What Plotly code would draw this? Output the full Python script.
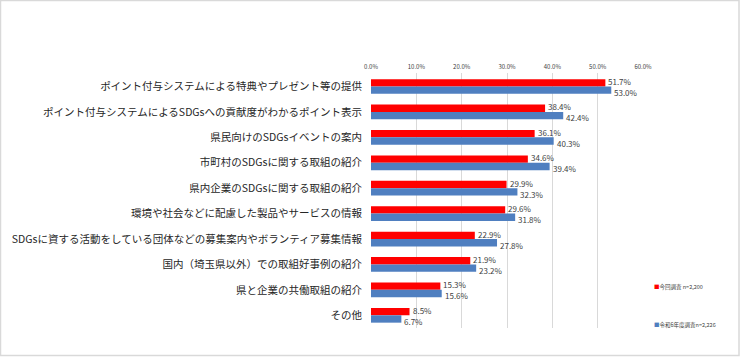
import plotly.graph_objects as go

categories = [
    "ポイント付与システムによる特典やプレゼント等の提供",
    "ポイント付与システムによるSDGsへの貢献度がわかるポイント表示",
    "県民向けのSDGsイベントの案内",
    "市町村のSDGsに関する取組の紹介",
    "県内企業のSDGsに関する取組の紹介",
    "環境や社会などに配慮した製品やサービスの情報",
    "SDGsに資する活動をしている団体などの募集案内やボランティア募集情報",
    "国内（埼玉県以外）での取組好事例の紹介",
    "県と企業の共働取組の紹介",
    "その他",
]
current_values = [51.7, 38.4, 36.1, 34.6, 29.9, 29.6, 22.9, 21.9, 15.3, 8.5]
previous_values = [53.0, 42.4, 40.3, 39.4, 32.3, 31.8, 27.8, 23.2, 15.6, 6.7]
series_names = ["今回調査 n=2,200", "令和6年度調査n=2,226"]
tick_values = [0, 10, 20, 30, 40, 50, 60]
tick_labels = ["0.0%", "10.0%", "20.0%", "30.0%", "40.0%", "50.0%", "60.0%"]

RED = "#FF0000"
BLUE = "#4F7FC0"
FONT = "Noto Sans CJK JP"

fig = go.Figure()
for name, vals, col in [(series_names[0], current_values, RED),
                        (series_names[1], previous_values, BLUE)]:
    fig.add_trace(go.Bar(
        y=categories, x=vals, name=name, orientation="h",
        marker=dict(color=col, line=dict(width=0)),
        showlegend=False, hoverinfo="skip",
    ))

# value labels (placed next to bar ends, red slightly above, blue below)
for vals, shift in [(current_values, 5), (previous_values, -6)]:
    for cat, v in zip(categories, vals):
        fig.add_annotation(
            x=v, y=cat, xref="x", yref="y", text=f"{v:.1f}%",
            showarrow=False, xanchor="left", yanchor="middle",
            xshift=1, yshift=shift,
            font=dict(size=8, color="#404040", family=FONT),
        )

W, H = 740, 357
L, R, T, B = 371, 97, 73, 29
pw, ph = W - L - R, H - T - B

fig.update_layout(
    width=W, height=H,
    margin=dict(l=L, r=R, t=T, b=B, autoexpand=False),
    paper_bgcolor="white", plot_bgcolor="white",
    barmode="group", bargap=0.42, bargroupgap=0.0,
    font=dict(family=FONT, color="#262626"),
    xaxis=dict(side="top", range=[0, 60], tickvals=tick_values, ticktext=tick_labels,
               showgrid=True, gridcolor="#D9D9D9", gridwidth=1, zeroline=False,
               showline=False, ticks="", tickfont=dict(size=6, color="#404040"),
               ticklabelstandoff=2),
    yaxis=dict(categoryorder="array", categoryarray=categories, autorange="reversed",
               showgrid=False, showline=False, ticks="", ticklabelstandoff=8,
               tickfont=dict(size=10.5, color="#262626")),
)

# legend as annotations
legend_y_px = [287, 325]
for name, col, ypx in zip(series_names, [RED, BLUE], legend_y_px):
    fig.add_annotation(
        xref="paper", yref="paper",
        x=(652 - L) / pw, y=(H - B - ypx) / ph,
        xanchor="left", yanchor="middle", showarrow=False,
        text=f"<span style='color:{col}'>■</span>{name}",
        font=dict(size=5.5, color="#404040", family=FONT),
    )

# outer border
fig.add_shape(type="rect", xref="paper", yref="paper",
              x0=(0.5 - L) / pw, x1=(W - 1 - L) / pw,
              y0=(H - B - (H - 1.5)) / ph, y1=(H - B - 0.5) / ph,
              line=dict(color="#D9D9D9", width=1.5), layer="below")

fig.write_html("out.html",
               config={"displayModeBar": False},
               post_script="document.body.style.margin='0';document.body.style.overflow='hidden';")
